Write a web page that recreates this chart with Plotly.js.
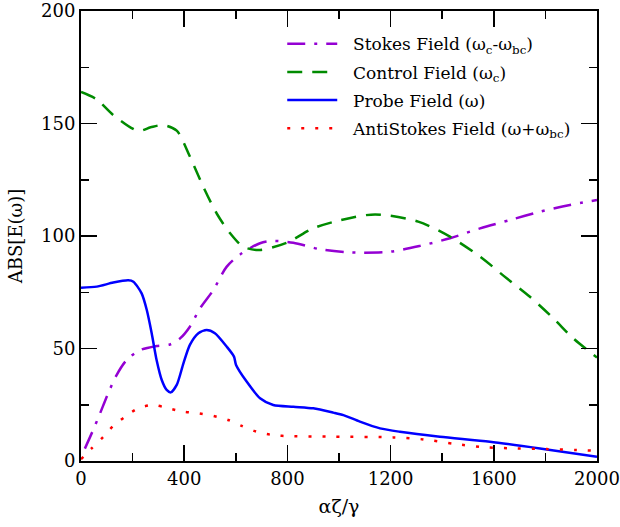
<!DOCTYPE html>
<html>
<head>
<meta charset="utf-8">
<script src="https://cdn.plot.ly/plotly-3.0.1.min.js"></script>
<style>html,body{margin:0;padding:0;background:#fff;}#chart{width:620px;height:527px;}</style>
</head>
<body>
<div id="chart"></div>
<script>
// Stokes Field (ωc-ωbc)
var stokesX = [15, 48, 74, 105, 138, 177, 229, 293, 345, 384, 422, 461, 513, 565, 623, 694, 739, 823, 926, 1030, 1081, 1198, 1314, 1430, 1547, 1663, 1779, 1895, 2000];
var stokesY = [5.5, 14, 21.2, 30, 38.2, 44.9, 49.3, 51.1, 51.8, 54.5, 59.7, 67.8, 76, 86.4, 92.3, 96.8, 97.8, 97, 94.1, 92.8, 92.6, 93, 95.6, 99, 103.4, 107.1, 110.8, 113.8, 116];
// Control Field (ωc)
var controlX = [0, 61, 125, 222, 270, 319, 371, 422, 474, 526, 578, 629, 694, 797, 900, 1004, 1140, 1307, 1430, 1547, 1650, 1740, 1831, 1908, 2000];
var controlY = [164, 160.7, 153.8, 146.7, 148.3, 149.3, 146.8, 135.3, 121.9, 110, 101.2, 95.2, 93.8, 97, 103.4, 107, 109.6, 106.4, 99.7, 90.8, 81.2, 73, 63.4, 54.5, 46];
// Probe Field (ω)
var probeX = [0, 61, 125, 183, 203, 235, 255, 274, 293, 313, 332, 348, 371, 397, 422, 455, 487, 519, 565, 593, 601, 642, 694, 745, 823, 900, 978, 1017, 1081, 1159, 1236, 1391, 1585, 1779, 2000];
var probeY = [77, 77.5, 79.3, 80.3, 79.7, 74.5, 67.1, 56.8, 44.9, 36, 31.6, 30.5, 33.8, 43.4, 51.6, 56.8, 58.2, 56.8, 50.8, 46.4, 42.7, 35.3, 27.9, 24.9, 24.1, 23.4, 21.5, 20.4, 17.5, 14.5, 13, 10.8, 8.6, 5.6, 1.9];
// AntiStokes Field (ω+ωbc)
var antiX = [0, 41, 87, 125, 171, 222, 280, 338, 397, 455, 513, 571, 623, 681, 739, 797, 978, 1210, 1327, 1450, 1566, 1689, 1805, 1921, 2000];
var antiY = [0.8, 5.6, 10.8, 15.6, 19.7, 23.4, 24.9, 23.4, 21.9, 21.2, 20, 18.2, 15.6, 13, 11.6, 11.1, 10.8, 10.5, 9.6, 7.6, 6.1, 5.6, 5.3, 4.9, 4.5];

var xTickVals = [0, 400, 800, 1200, 1600, 2000];
var yTickVals = [0, 50, 100, 150, 200];

var FONT = 'DejaVu Serif';
var PAD = '\u00a0\u00a0';

var traces = [
  {x: stokesX, y: stokesY, name: PAD + 'Stokes Field (ω<sub>c</sub>-ω<sub>bc</sub>)', mode: 'lines', legendgroup: 'a',
   line: {color: '#9400d3', width: 2.5, dash: '18px,9px,3px,9px', shape: 'spline', smoothing: 0.8}},
  {x: controlX, y: controlY, name: PAD + 'Control Field (ω<sub>c</sub>)', mode: 'lines', legendgroup: 'b',
   line: {color: '#008b00', width: 2.5, dash: '15px,10px', shape: 'spline', smoothing: 0.8}},
  {x: probeX, y: probeY, name: PAD + 'Probe Field (ω)', mode: 'lines', legendgroup: 'c',
   line: {color: '#0000ff', width: 2.5, shape: 'spline', smoothing: 0.7}},
  {x: antiX, y: antiY, name: PAD + 'AntiStokes Field (ω+ω<sub>bc</sub>)', mode: 'lines', legendgroup: 'd',
   line: {color: '#ff0000', width: 2.5, dash: '3px,11px', shape: 'spline', smoothing: 0.8}}
];

var axisCommon = {
  showgrid: false, zeroline: false, showline: true, linecolor: '#000', linewidth: 2,
  mirror: 'ticks', ticks: 'inside', ticklen: 16, tickwidth: 1.5, tickcolor: '#000',
  ticklabeloverflow: 'allow',
  tickfont: {family: FONT, size: 18, color: '#000'}
};

var layout = {
  width: 620, height: 527,
  margin: {l: 81, r: 23, t: 11, b: 66, pad: 0},
  paper_bgcolor: '#fff', plot_bgcolor: '#fff',
  font: {family: FONT, color: '#000'},
  showlegend: true,
  legend: {x: 0.39, y: 0.966, xanchor: 'left', yanchor: 'top', bgcolor: 'rgba(0,0,0,0)',
           font: {family: FONT, size: 17, color: '#000'}, itemwidth: 50, tracegroupgap: 3},
  xaxis: Object.assign({}, axisCommon, {
    range: [0, 2000], tickvals: xTickVals, ticktext: xTickVals.map(String),
    minor: {dtick: 200, tick0: 0, ticks: 'inside', ticklen: 8, tickwidth: 1.5, tickcolor: '#000', showgrid: false},
    title: {text: 'αζ/γ', font: {family: FONT, size: 19, color: '#000'}, standoff: 12}
  }),
  yaxis: Object.assign({}, axisCommon, {
    range: [0, 200], tickvals: yTickVals, ticktext: yTickVals.map(String),
    minor: {dtick: 25, tick0: 0, ticks: 'inside', ticklen: 8, tickwidth: 1.5, tickcolor: '#000', showgrid: false},
    title: {text: 'ABS[E(ω)]', font: {family: FONT, size: 18, color: '#000'}, standoff: 14}
  })
};

Plotly.newPlot('chart', traces, layout, {displayModeBar: false, staticPlot: true});
</script>
</body>
</html>
